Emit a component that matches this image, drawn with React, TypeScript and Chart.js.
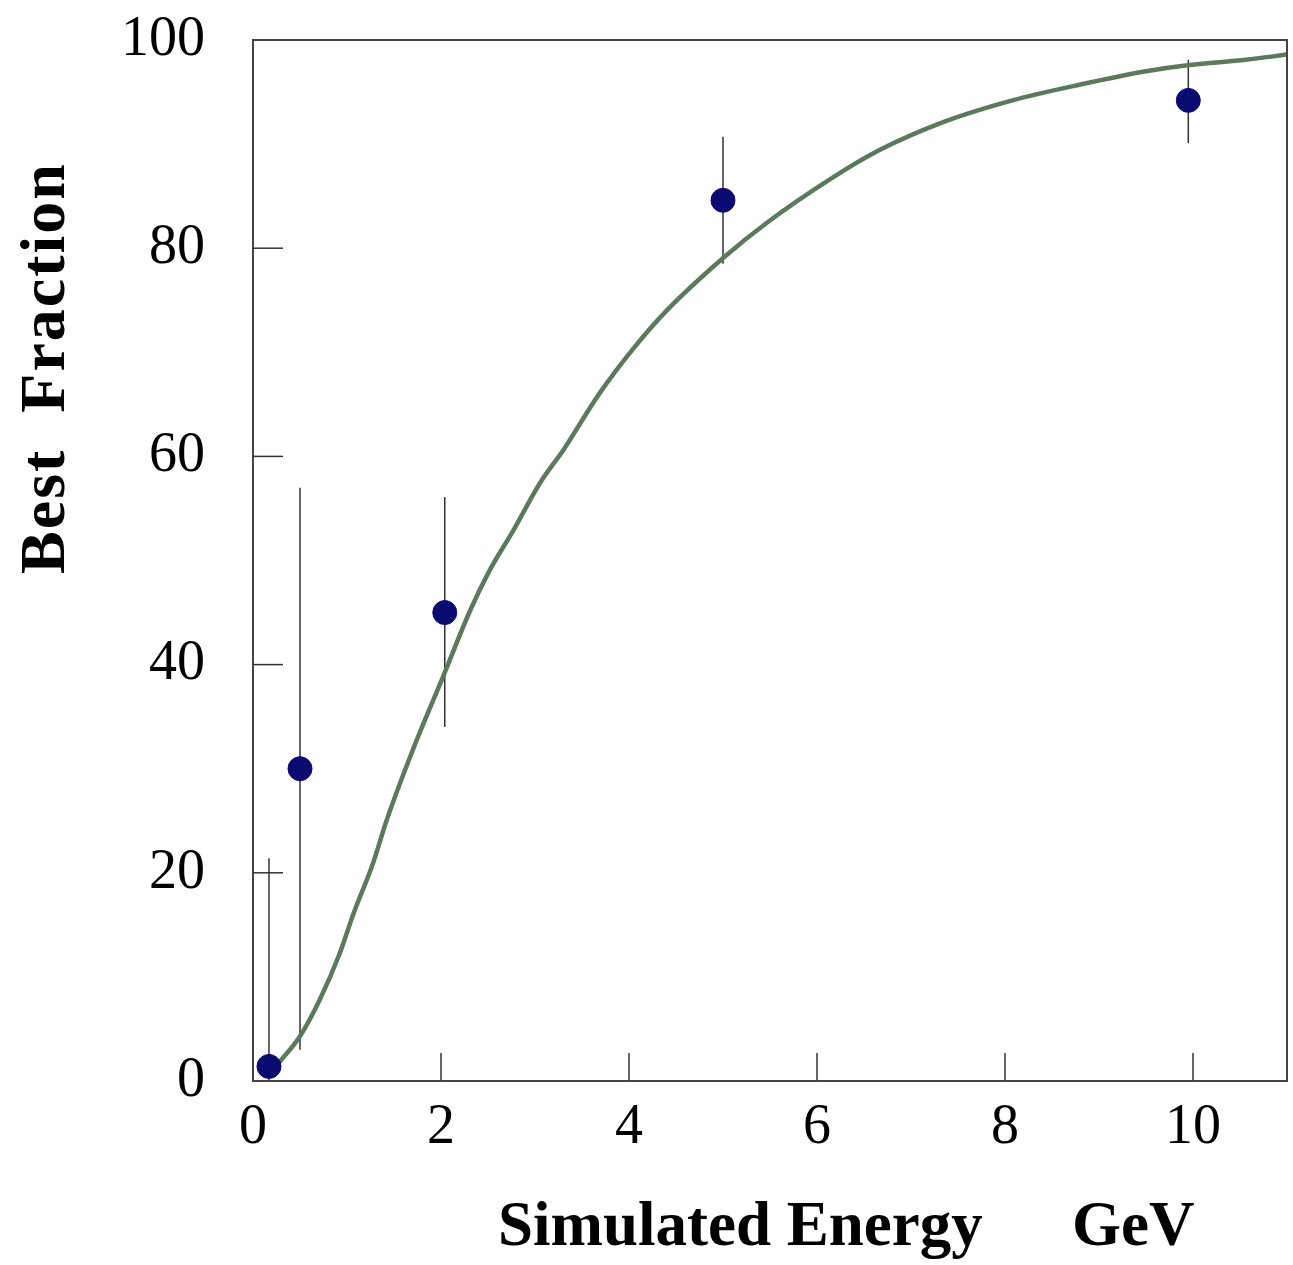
import React, { useEffect, useRef } from "react";
import { Chart, registerables } from "chart.js";

Chart.register(...registerables);

// Measured points
const energies = [0.17, 0.5, 2.04, 5.0, 9.95];
const fractions = [1.4, 30.0, 45.0, 84.6, 94.2];
const errLow = [0, 3.0, 34.0, 78.5, 90.1];
const errHigh = [21.4, 57.0, 56.1, 90.7, 98.1];

// Fitted curve
const fitX = [0.28, 0.5, 0.71, 0.92, 1.07, 1.28, 1.42, 1.7, 2.02, 2.31, 2.52, 2.77, 3.05, 3.3, 3.69, 4.05, 4.4, 5.02, 5.46, 6.17, 6.66, 7.37, 8.08, 8.79, 9.5, 9.96, 10.56, 11.0];
const fitY = [1.8, 4.3, 7.8, 12.2, 16.1, 21.0, 25.0, 31.8, 38.8, 45.2, 49.1, 52.9, 57.4, 60.6, 66.1, 70.4, 74.0, 79.2, 82.4, 86.8, 89.4, 92.2, 94.2, 95.7, 97.0, 97.6, 98.1, 98.6];

const xTicks = [0, 2, 4, 6, 8, 10];
const yTicks = [0, 20, 40, 60, 80, 100];

const xTitle = "Simulated Energy";
const xUnit = "GeV";
const yTitle = "Best  Fraction";

const SERIF = '"Liberation Serif", "Times New Roman", serif';

const framePlugin = {
  id: "frame",
  beforeDatasetsDraw(chart: any) {
    const ctx = chart.ctx;
    const xs = chart.scales.x;
    const ys = chart.scales.y;
    ctx.save();
    ctx.strokeStyle = "#333";
    ctx.lineWidth = 1.5;
    for (let i = 0; i < energies.length; i++) {
      const px = xs.getPixelForValue(energies[i]);
      ctx.beginPath();
      ctx.moveTo(px, ys.getPixelForValue(errLow[i]));
      ctx.lineTo(px, ys.getPixelForValue(errHigh[i]));
      ctx.stroke();
    }
    ctx.restore();
  },
  afterDraw(chart: any) {
    const ctx = chart.ctx;
    const a = chart.chartArea;
    const xs = chart.scales.x;
    const ys = chart.scales.y;
    ctx.save();
    // frame
    ctx.strokeStyle = "#444";
    ctx.lineWidth = 2;
    ctx.strokeRect(a.left, a.top, a.right - a.left, a.bottom - a.top);
    // inward ticks
    ctx.strokeStyle = "#333";
    ctx.lineWidth = 1.5;
    for (const v of yTicks) {
      if (v === 0 || v === 100) continue;
      const py = ys.getPixelForValue(v);
      ctx.beginPath();
      ctx.moveTo(a.left, py);
      ctx.lineTo(a.left + 30, py);
      ctx.stroke();
    }
    for (const v of xTicks) {
      if (v === 0) continue;
      const px = xs.getPixelForValue(v);
      ctx.beginPath();
      ctx.moveTo(px, a.bottom);
      ctx.lineTo(px, a.bottom - 28);
      ctx.stroke();
    }
    // axis titles
    ctx.fillStyle = "#000";
    ctx.font = `bold 63px ${SERIF}`;
    ctx.textBaseline = "alphabetic";
    ctx.textAlign = "left";
    ctx.fillText(xTitle, 498, 1245);
    ctx.fillText(xUnit, 1072, 1245);

    ctx.translate(64, 368);
    ctx.rotate(-Math.PI / 2);
    ctx.textAlign = "center";
    ctx.font = `bold 64px ${SERIF}`;
    try {
      (ctx as any).letterSpacing = "2px";
    } catch (e) {}
    ctx.fillText(yTitle, 0, 0);
    ctx.restore();
  },
};

export default function App() {
  const ref = useRef<HTMLCanvasElement | null>(null);

  useEffect(() => {
    if (!ref.current) return;
    const chart = new Chart(ref.current, {
      type: "scatter",
      data: {
        datasets: [
          {
            label: "points",
            data: energies.map((x, i) => ({ x, y: fractions[i] })),
            backgroundColor: "#0a0a70",
            borderColor: "#0a0a70",
            pointRadius: 12,
            pointHoverRadius: 12,
            showLine: false,
            order: 0,
          },
          {
            label: "fit",
            data: fitX.map((x, i) => ({ x, y: fitY[i] })),
            showLine: true,
            borderColor: "#5b7a5c",
            borderWidth: 4.5,
            pointRadius: 0,
            cubicInterpolationMode: "monotone",
            fill: false,
            order: 1,
          },
        ],
      },
      options: {
        responsive: false,
        animation: false,
        devicePixelRatio: 1,
        layout: { autoPadding: false, padding: { top: 40, right: 6, left: 0, bottom: 0 } },
        plugins: {
          legend: { display: false },
          tooltip: { enabled: false },
          title: { display: false },
        },
        scales: {
          x: {
            type: "linear",
            min: 0,
            max: 11,
            afterFit: (s: any) => {
              s.height = 184;
              s.paddingLeft = 0;
              s.paddingRight = 0;
            },
            grid: { display: false, drawTicks: false },
            border: { display: true, color: "#444", width: 2 },
            ticks: {
              stepSize: 2,
              includeBounds: false,
              padding: 14,
              color: "#000",
              font: { family: SERIF, size: 56 },
              callback: (v: any) => (xTicks.includes(v) ? String(v) : ""),
            },
          },
          y: {
            type: "linear",
            min: 0,
            max: 100,
            afterFit: (s: any) => {
              s.width = 253;
              s.paddingTop = 0;
              s.paddingBottom = 0;
            },
            grid: { display: false, drawTicks: false },
            border: { display: true, color: "#444", width: 2 },
            ticks: {
              stepSize: 20,
              padding: 48,
              color: "#000",
              font: { family: SERIF, size: 56 },
              callback: (v: any) => (yTicks.includes(v) ? String(v) : ""),
            },
          },
        },
      } as any,
      plugins: [framePlugin],
    });
    return () => chart.destroy();
  }, []);

  return (
    <div style={{ position: "absolute", left: 0, top: 0, width: 1293, height: 1265, background: "#fff" }}>
      <canvas ref={ref} width={1293} height={1265} style={{ display: "block", width: 1293, height: 1265 }} />
    </div>
  );
}
